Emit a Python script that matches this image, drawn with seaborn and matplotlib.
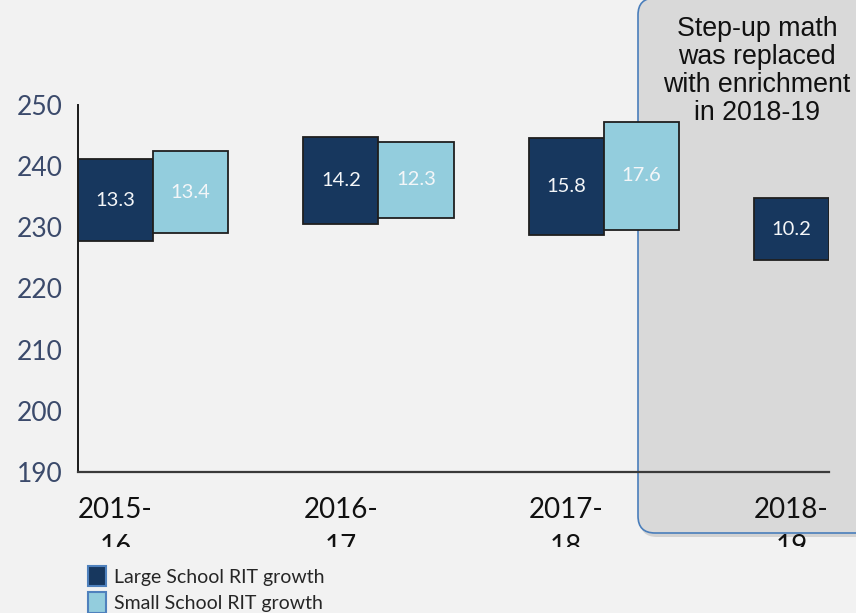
import matplotlib
matplotlib.use("Agg")
import matplotlib.pyplot as plt
from matplotlib.patches import FancyBboxPatch, Patch
from matplotlib.transforms import Bbox, TransformedBbox
import numpy as np
import pandas as pd
import seaborn as sns

# School years and RIT growth (start score + growth during the year)
years = ["2015-\n16", "2016-\n17", "2017-\n18", "2018-\n19"]
schools = ["Large School RIT growth", "Small School RIT growth"]
large_start = [227.8, 230.5, 228.8, 224.6]
large_growth = [13.3, 14.2, 15.8, 10.2]
small_start = [229.0, 231.6, 229.6, np.nan]
small_growth = [13.4, 12.3, 17.6, np.nan]
y_ticks = [190, 200, 210, 220, 230, 240, 250]

NAVY = "#17375e"
LIGHT = "#93cddd"
BG = "#f2f2f2"

sns.set_theme(style="white")
plt.rcParams["font.family"] = ["Lato", "DejaVu Sans"]

df = pd.DataFrame({
    "year": years * 2,
    "school": [schools[0]] * len(years) + [schools[1]] * len(years),
    "start": large_start + small_start,
    "growth": large_growth + small_growth,
})
starts = {schools[0]: large_start, schools[1]: small_start}
growths = {schools[0]: large_growth, schools[1]: small_growth}

W, H = 856, 613
fig = plt.figure(figsize=(W / 100, H / 100), dpi=100, facecolor=BG)
ax = fig.add_axes([78 / W, 1 - 472 / H, (829 - 78) / W, (472 - 105) / H])
ax.set_facecolor("none")

# Highlight box for the program change
shadow = FancyBboxPatch((640, H - 537), 300, 537,
                        boxstyle="round,pad=0,rounding_size=17",
                        transform=None, facecolor="#b8b8b8", edgecolor="none",
                        alpha=0.55, zorder=-3)
box = FancyBboxPatch((638, H - 533), 300, 535,
                     boxstyle="round,pad=0,rounding_size=17",
                     transform=None, facecolor="#d9d9d9", edgecolor="#4a7ebb",
                     linewidth=1.2, zorder=-2)
fig.patches.extend([shadow, box])
fig.text(757 / W, 1 - 71 / H,
         "Step-up math\nwas replaced\nwith enrichment\nin 2018-19",
         ha="center", va="center", multialignment="center",
         fontsize=19.3, family=["Liberation Sans", "DejaVu Sans"],
         color="#111111", linespacing=1.1)

# Floating bars: seaborn draws the growth heights, then each bar is lifted to its start score
sns.barplot(data=df, x="year", y="growth", hue="school", order=years,
            hue_order=schools, palette=[NAVY, LIGHT], saturation=1,
            width=2 / 3, dodge=True, edgecolor="#1f1f1f", linewidth=1.3,
            legend=False, ax=ax)

for container, school in zip(ax.containers, schools):
    labels = []
    for patch in container.patches:
        i = int(round(patch.get_x() + patch.get_width() / 2))
        patch.set_y(starts[school][i])
        labels.append(f"{growths[school][i]:.1f}")
    ax.bar_label(container, labels=labels, label_type="center",
                 color="#f4f6f8", fontsize=14.5)

ax.set_xlim(-1 / 3, 3.0)
ax.set_ylim(190, 250)
ax.set_yticks(y_ticks)
ax.set_xticks([i - 1 / 6 for i in range(len(years))], years)
ax.set_xlabel("")
ax.set_ylabel("")

ax.tick_params(axis="y", length=0, pad=11, labelsize=19, labelcolor="#3b4a6b")
ax.tick_params(axis="x", length=0, pad=18, labelsize=20, labelcolor="#111111")
for side in ("top", "right"):
    ax.spines[side].set_visible(False)
ax.spines["left"].set_color("#1a1a1a")
ax.spines["left"].set_linewidth(1.4)
ax.spines["bottom"].set_color("#3a3a3a")
ax.spines["bottom"].set_linewidth(1.6)

# Year labels are cut off below the first line
clip = TransformedBbox(Bbox([[0, 1 - 547 / H], [1, 1]]), fig.transFigure)
for lbl in ax.get_xticklabels():
    lbl.set_linespacing(1.52)
    lbl.set_clip_box(clip)
    lbl.set_clip_on(True)

handles = [Patch(facecolor=NAVY, edgecolor="#4f81bd", linewidth=1.5),
           Patch(facecolor=LIGHT, edgecolor="#4f81bd", linewidth=1.5)]
fig.legend(handles, schools, loc="upper left",
           bbox_to_anchor=(80 / W, 1 - 558 / H), frameon=False,
           fontsize=14, handlelength=0.95, handleheight=1.25,
           handletextpad=0.4, labelspacing=0.3, borderaxespad=0)

fig.savefig("out.png", dpi=100, facecolor=BG)
